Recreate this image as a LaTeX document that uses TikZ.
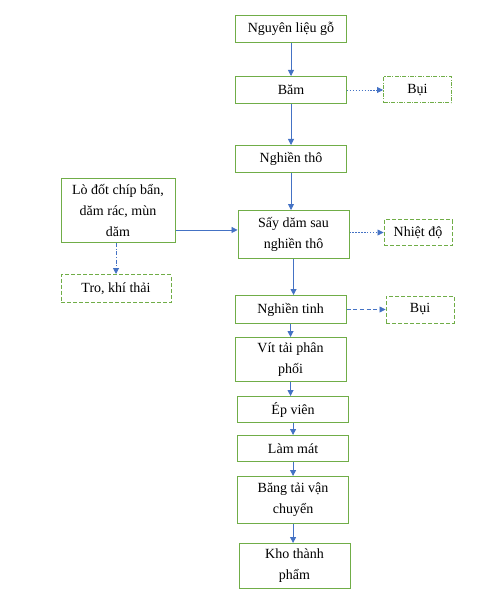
\documentclass[tikz,border=0pt]{standalone}
\usepackage{fontspec}
\setmainfont{Liberation Serif}
\usetikzlibrary{arrows.meta,positioning}
\definecolor{Leaf}{HTML}{70AD47}
\definecolor{Flow}{HTML}{4472C4}
\tikzset{
  box/.style={draw=Leaf,fill=white,line width=.75pt,minimum width=83.25pt,minimum height=20.25pt,align=center,inner sep=2pt,font=\fontsize{10.5}{15.75}\selectfont},
  outbox/.style={box,dash pattern=on 3pt off 1.5pt,minimum width=51pt,minimum height=19.5pt},
  flow/.style={-{Triangle[length=4.5pt,width=4.5pt]},draw=Flow,line width=.6pt},
  sideflow/.style={flow,dash pattern=on 1pt off 1.2pt}
}
\begin{document}
\begin{tikzpicture}[x=.75pt,y=-.75pt,node distance=24pt]
  \useasboundingbox (0,0) rectangle (482,602);
  % main line
  \node[box] (raw) at (291,29) {Nguyên liệu gỗ};
  \node[box,below=24.75pt of raw] (chop) {Băm};
  \node[box,below=30.75pt of chop] (coarse) {Nghiền thô};
  \node[box,minimum height=36pt,below=27.75pt of coarse,xshift=1.9pt] (dry) {Sấy dăm sau\\nghiền thô};
  \node[box,minimum height=21pt,below=27pt of dry,xshift=-2.25pt] (fine) {Nghiền tinh};
  \node[box,minimum height=33pt,below=9.75pt of fine] (vit) {Vít tải phân\\phối};
  \node[box,minimum height=19.5pt,below=10.5pt of vit,xshift=1.9pt] (press) {Ép viên};
  \node[box,minimum height=19.5pt,below=9pt of press] (cool) {Làm mát};
  \node[box,minimum height=35.25pt,below=10.5pt of cool] (belt) {Băng tải vận\\chuyển};
  \node[box,minimum height=33.75pt,below=14.25pt of belt,xshift=1.1pt] (store) {Kho thành\\phẩm};
  % side boxes
  \node[outbox,dash pattern=on 3pt off 1pt on .8pt off 1pt,right=27pt of chop] (dust1) {Bụi};
  \node[outbox,right=25.5pt of dry,yshift=1.5pt] (heat) {Nhiệt độ};
  \node[outbox,minimum height=20.25pt,right=29.25pt of fine] (dust2) {Bụi};
  \node[box,minimum width=85.5pt,minimum height=48pt,left=46.5pt of dry,yshift=18pt] (furnace) {Lò đốt chíp bẩn,\\dăm rác, mùn\\dăm};
  \node[outbox,minimum width=82.5pt,minimum height=21pt,below=23.25pt of furnace,xshift=-1.5pt] (ash) {Tro, khí thải};
  % arrows
  \foreach \a/\b in {raw/chop,chop/coarse,coarse/dry,dry/fine,fine/vit,vit/press,press/cool,cool/belt,belt/store}
    \draw[flow] (\a.south) -- (\a.south |- \b.north);
  \coordinate (feed) at ([yshift=3.4pt]dry.west);
  \draw[flow] (furnace.east |- feed) -- (feed);
  \draw[sideflow] (chop) -- (dust1);
  \draw[sideflow] (dry.east |- heat.west) -- (heat.west);
  \draw[flow,dash pattern=on 3pt off 2pt] (fine.east |- dust2.west) -- (dust2.west);
  \draw[flow,dash pattern=on 3pt off 1.2pt on .8pt off 1.2pt] (ash.north |- furnace.south) -- (ash.north);
\end{tikzpicture}
\end{document}
